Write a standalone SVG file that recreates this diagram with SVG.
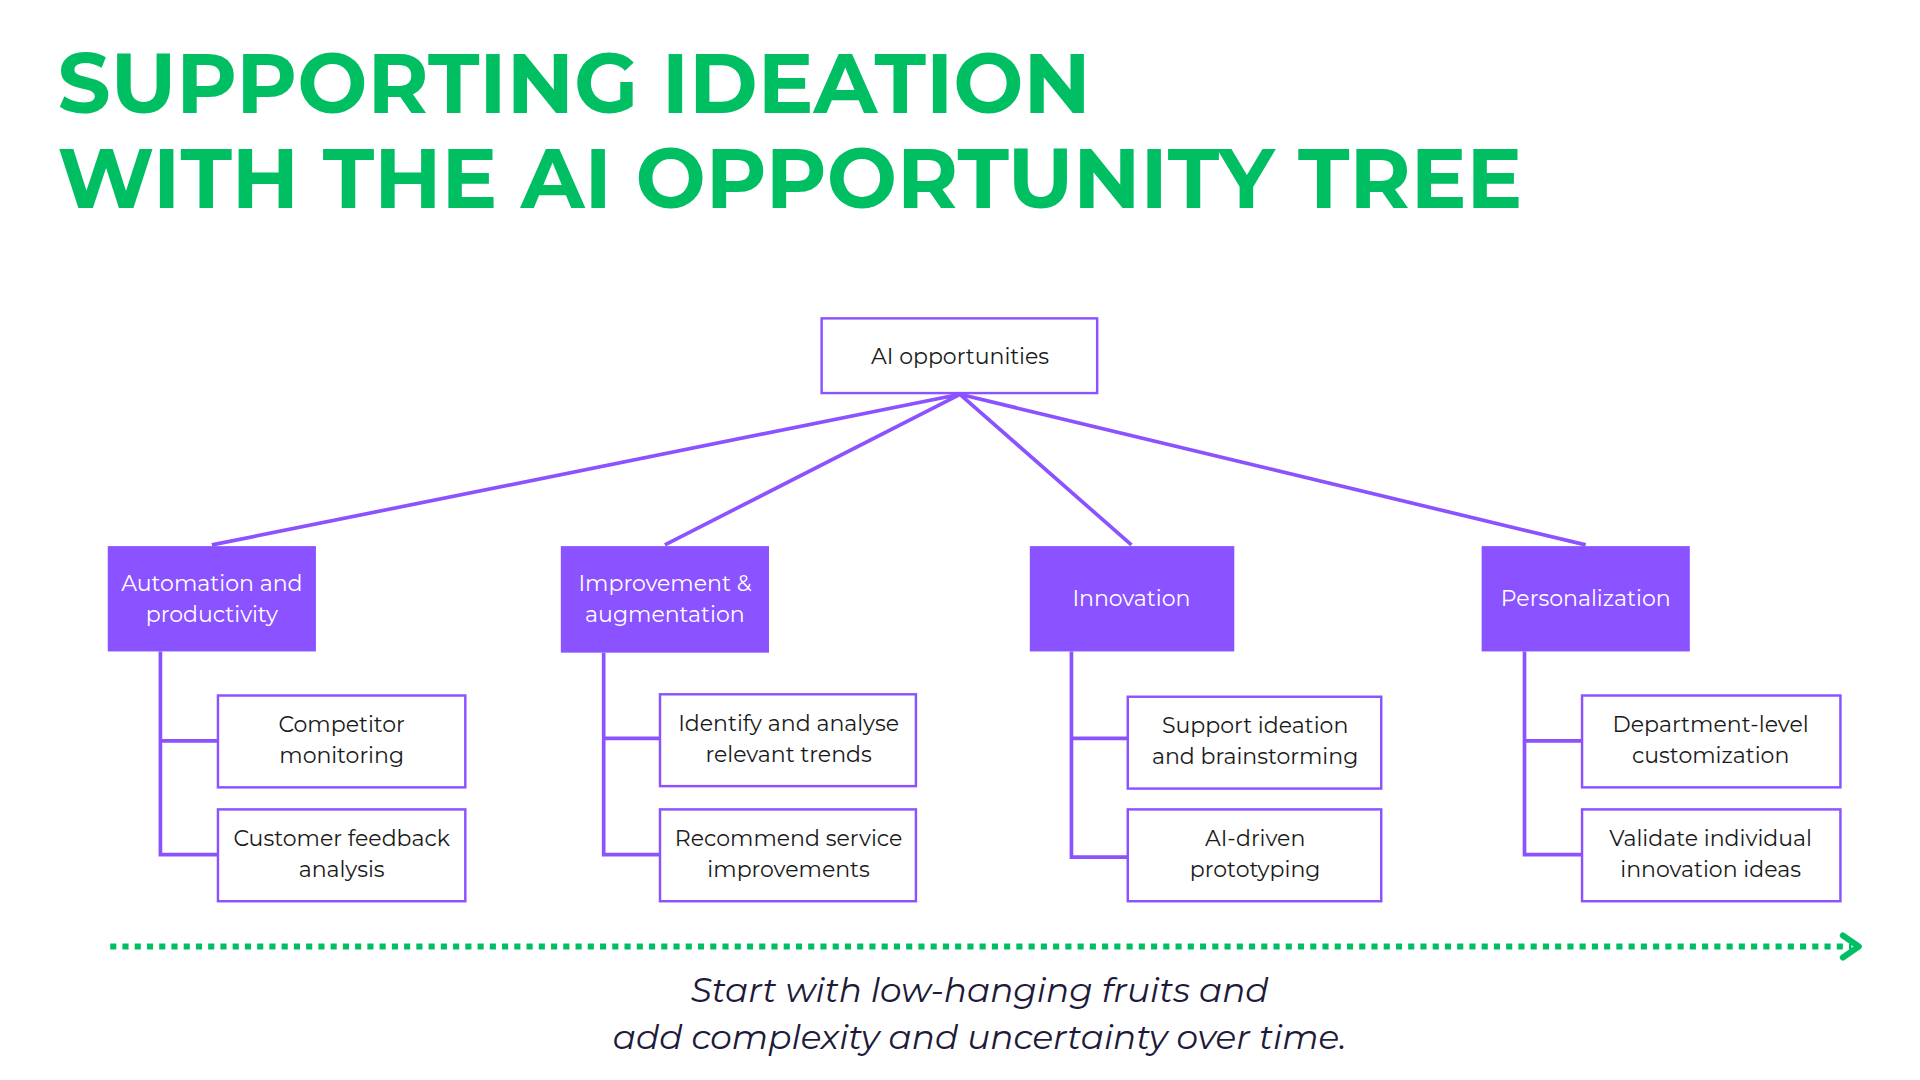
<svg xmlns="http://www.w3.org/2000/svg" width="1920" height="1080" viewBox="0 0 1920 1080">
<style>
.t{font-family:Montserrat,"Open Sans","Liberation Sans",sans-serif}
.title{font-size:68px;font-weight:bold;fill:#00BF63}
.leaf{fill:#fff;stroke:#8B52FF;stroke-width:2}
.cat{fill:#8B52FF}
.lt{font-size:18px;fill:#1a1a1a;text-anchor:middle}
.ct{font-size:18px;fill:#fff;text-anchor:middle}
.ln{stroke:#8B52FF;stroke-width:3;fill:none}
</style>
<rect width="1920" height="1080" fill="#fff"/>
<g transform="scale(1.2245)">
<text class="t title" x="47" y="92">SUPPORTING IDEATION</text>
<text class="t title" x="47" y="170">WITH THE AI OPPORTUNITY TREE</text>
<g id="connectors">
<path class="ln" d="M784 322L173 445M784 322L543 445M784 322L924 445M784 322L1295 445"/>
<path class="ln" d="M131 532V698H178M131 605H178"/>
<path class="ln" d="M493 533V698H539M493 603H539"/>
<path class="ln" d="M875 532V700H921M875 603H921"/>
<path class="ln" d="M1245 532V698H1292M1245 605H1292"/>
<line x1="90" y1="773" x2="1512" y2="773" stroke="#00BF63" stroke-width="5" stroke-dasharray="5 5"/>
<path d="M1505 764L1518 773L1505 782" stroke="#00BF63" stroke-width="5" fill="none" stroke-linecap="round" stroke-linejoin="round"/>
</g>
<g id="root"><rect class="leaf" x="671" y="260" width="225" height="61"/><text class="t lt" x="784" y="297">AI opportunities</text></g>
<g id="cat1"><rect class="cat" x="88" y="446" width="170" height="86"/><text class="t ct" x="173" y="483">Automation and</text><text class="t ct" x="173" y="508">productivity</text></g>
<g id="cat2"><rect class="cat" x="458" y="446" width="170" height="87"/><text class="t ct" x="543" y="483">Improvement &amp;</text><text class="t ct" x="543" y="508">augmentation</text></g>
<g id="cat3"><rect class="cat" x="841" y="446" width="167" height="86"/><text class="t ct" x="924" y="495">Innovation</text></g>
<g id="cat4"><rect class="cat" x="1210" y="446" width="170" height="86"/><text class="t ct" x="1295" y="495">Personalization</text></g>
<g id="l1a"><rect class="leaf" x="178" y="568" width="202" height="75"/><text class="t lt" x="279" y="598">Competitor</text><text class="t lt" x="279" y="623">monitoring</text></g>
<g id="l1b"><rect class="leaf" x="178" y="661" width="202" height="75"/><text class="t lt" x="279" y="691">Customer feedback</text><text class="t lt" x="279" y="716">analysis</text></g>
<g id="l2a"><rect class="leaf" x="539" y="567" width="209" height="75"/><text class="t lt" x="644" y="597">Identify and analyse</text><text class="t lt" x="644" y="622">relevant trends</text></g>
<g id="l2b"><rect class="leaf" x="539" y="661" width="209" height="75"/><text class="t lt" x="644" y="691">Recommend service</text><text class="t lt" x="644" y="716">improvements</text></g>
<g id="l3a"><rect class="leaf" x="921" y="569" width="207" height="75"/><text class="t lt" x="1025" y="599">Support ideation</text><text class="t lt" x="1025" y="624">and brainstorming</text></g>
<g id="l3b"><rect class="leaf" x="921" y="661" width="207" height="75"/><text class="t lt" x="1025" y="691">AI-driven</text><text class="t lt" x="1025" y="716">prototyping</text></g>
<g id="l4a"><rect class="leaf" x="1292" y="568" width="211" height="75"/><text class="t lt" x="1397" y="598">Department-level</text><text class="t lt" x="1397" y="623">customization</text></g>
<g id="l4b"><rect class="leaf" x="1292" y="661" width="211" height="75"/><text class="t lt" x="1397" y="691">Validate individual</text><text class="t lt" x="1397" y="716">innovation ideas</text></g>
<text class="t" x="800" y="818" font-size="28" font-style="italic" fill="#1d1a3a" text-anchor="middle">Start with low-hanging fruits and</text>
<text class="t" x="800" y="857" font-size="28" font-style="italic" fill="#1d1a3a" text-anchor="middle">add complexity and uncertainty over time.</text>
</g>
</svg>
